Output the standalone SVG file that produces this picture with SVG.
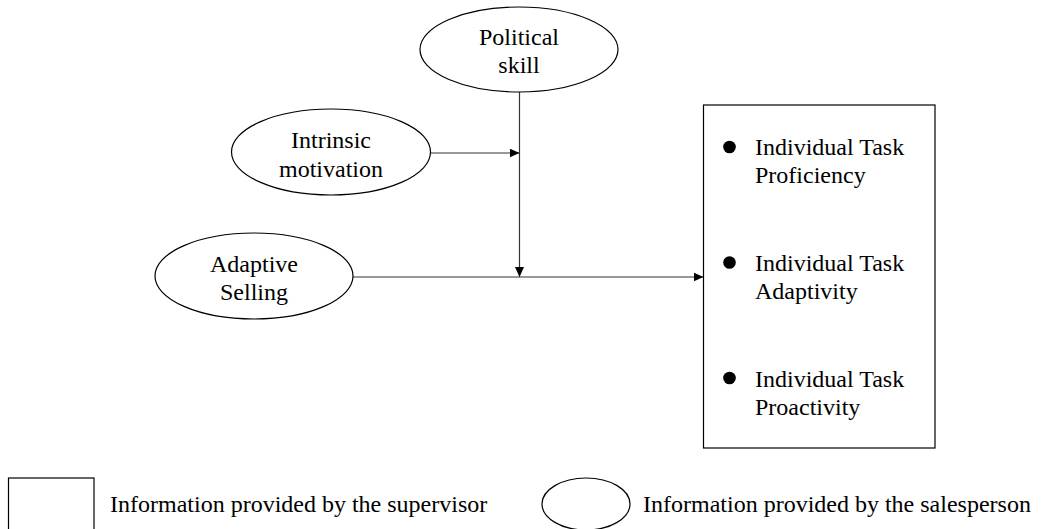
<svg xmlns="http://www.w3.org/2000/svg" width="1047" height="529" viewBox="0 0 1047 529">
<style>
  .bg{fill:#ffffff}
  .shape{fill:#ffffff;stroke:#000000;stroke-width:1.2}
  .conn{fill:none;stroke:#333333;stroke-width:1.2}
  .c{text-anchor:middle}
  .dot{fill:#000000}
</style>
<defs>
  <marker id="arr" markerUnits="userSpaceOnUse" markerWidth="11" markerHeight="9" refX="10" refY="4.5" orient="auto">
    <path d="M0,0 L10,4.5 L0,9 z" fill="#000000"/>
  </marker>
</defs>
<rect class="bg" x="0" y="0" width="1047" height="529"/>

<g id="connectors">
  <line class="conn" x1="519.5" y1="92" x2="519.5" y2="277" marker-end="url(#arr)"/>
  <line class="conn" x1="431" y1="153" x2="519.5" y2="153" marker-end="url(#arr)"/>
  <line class="conn" x1="353" y1="277" x2="703.5" y2="277" marker-end="url(#arr)"/>
</g>

<g font-family="Liberation Serif, Times New Roman, DejaVu Serif, serif" font-size="24" fill="#000000">
<g id="political-skill">
  <ellipse class="shape" cx="519" cy="49.5" rx="99" ry="42.5"/>
  <text class="c" x="519" y="45">Political</text>
  <text class="c" x="519" y="73">skill</text>
</g>

<g id="intrinsic-motivation">
  <ellipse class="shape" cx="331" cy="152" rx="99.5" ry="43"/>
  <text class="c" x="331" y="148">Intrinsic</text>
  <text class="c" x="331" y="177">motivation</text>
</g>

<g id="adaptive-selling">
  <ellipse class="shape" cx="254" cy="276" rx="99" ry="43"/>
  <text class="c" x="254" y="272">Adaptive</text>
  <text class="c" x="254" y="300">Selling</text>
</g>

<g id="performance">
  <rect class="shape" x="703.5" y="105" width="231.5" height="343"/>
  <circle class="dot" cx="729.5" cy="147" r="6.3"/>
  <text x="755" y="155">Individual Task</text>
  <text x="755" y="183">Proficiency</text>
  <circle class="dot" cx="729.5" cy="262.5" r="6.3"/>
  <text x="755" y="271">Individual Task</text>
  <text x="755" y="299">Adaptivity</text>
  <circle class="dot" cx="729.5" cy="378" r="6.3"/>
  <text x="755" y="387">Individual Task</text>
  <text x="755" y="415">Proactivity</text>
</g>

<g id="legend-supervisor">
  <rect class="shape" x="8.5" y="478" width="85.5" height="60"/>
  <text x="110" y="512">Information provided by the supervisor</text>
</g>

<g id="legend-salesperson">
  <ellipse class="shape" cx="586" cy="504" rx="44" ry="26"/>
  <text x="643" y="512">Information provided by the salesperson</text>
</g>
</g>
</svg>
